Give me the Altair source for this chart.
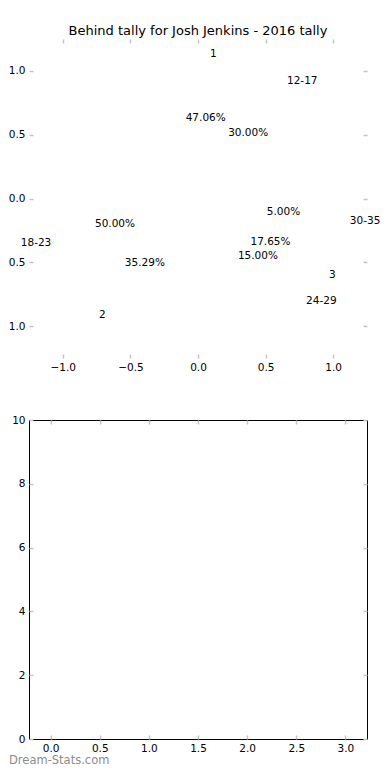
import altair as alt
import pandas as pd

FONT = "DejaVu Sans"

title_text = "Behind tally for Josh Jenkins - 2016 tally"
watermark = "Dream-Stats.com"

# pie titles
pie_names = ["1", "2", "3"]
pie_x = [0.114, -0.707, 0.993]
pie_y = [1.132, -0.912, -0.603]

# category labels
cat_names = ["12-17", "18-23", "30-35", "24-29"]
cat_x = [0.771, -1.198, 1.236, 0.912]
cat_y = [0.924, -0.352, -0.180, -0.807]

# percentage labels
pct_names = ["47.06%", "30.00%", "5.00%", "50.00%", "17.65%", "15.00%", "35.29%"]
pct_x = [0.057, 0.371, 0.632, -0.614, 0.536, 0.443, -0.393]
pct_y = [0.634, 0.517, -0.102, -0.196, -0.337, -0.454, -0.509]

top_x_ticks = [-1.0, -0.5, 0.0, 0.5, 1.0]
top_y_ticks = [-1.0, -0.5, 0.0, 0.5, 1.0]
top_domain = [-1.25, 1.25]

bottom_x_ticks = [0.0, 0.5, 1.0, 1.5, 2.0, 2.5, 3.0]
bottom_y_ticks = [0, 2, 4, 6, 8, 10]
bottom_x_domain = [-0.22, 3.22]
bottom_y_domain = [0, 10]

W = 338
H_TOP = 319
H_BOT = 319
TICK_COLOR = "#c4c4c4"
LABEL_SIZE = 10.5

df_top = pd.DataFrame({
    "label": pie_names + cat_names + pct_names,
    "x": pie_x + cat_x + pct_x,
    "y": pie_y + cat_y + pct_y,
})
df_bot = pd.DataFrame({"x": pd.Series([], dtype=float), "y": pd.Series([], dtype=float)})
df_mark = pd.DataFrame({"t": [watermark]})


def label_axis(orient, values, fmt):
    return alt.Axis(orient=orient, values=values, format=fmt, ticks=False, domain=False,
                    grid=False, labelPadding=4, labelFont=FONT, labelFontSize=LABEL_SIZE,
                    labelColor="#000", labelFlush=False, labelOverlap=False, title=None)


def tick_axis(orient, values, offset):
    return alt.Axis(orient=orient, values=values, offset=offset, labels=False, domain=False,
                    grid=False, ticks=True, tickSize=4, tickColor=TICK_COLOR, tickWidth=1.5,
                    title=None)


def tick_layers(df, xscale, yscale, xticks, yticks, w, h):
    inner_a = alt.Chart(df).mark_point(opacity=0).encode(
        x=alt.X("x:Q", scale=xscale, axis=tick_axis("top", xticks, -h)),
        y=alt.Y("y:Q", scale=yscale, axis=tick_axis("right", yticks, -w)),
    )
    inner_b = alt.Chart(df).mark_point(opacity=0).encode(
        x=alt.X("x:Q", scale=xscale, axis=tick_axis("bottom", xticks, -h)),
        y=alt.Y("y:Q", scale=yscale, axis=tick_axis("left", yticks, -w)),
    )
    return [inner_a, inner_b]


# ---- top panel ----
xs_top = alt.Scale(domain=top_domain, nice=False, zero=False)
ys_top = alt.Scale(domain=top_domain, nice=False, zero=False)

texts = alt.Chart(df_top).mark_text(font=FONT, fontSize=LABEL_SIZE, color="#000",
                                     align="center", baseline="middle").encode(
    x=alt.X("x:Q", scale=xs_top, axis=label_axis("bottom", top_x_ticks, ".1f")),
    y=alt.Y("y:Q", scale=ys_top, axis=label_axis("left", top_y_ticks, ".1f")),
    text="label:N",
)

top = alt.layer(texts, *tick_layers(df_top, xs_top, ys_top, top_x_ticks, top_y_ticks, W, H_TOP)).resolve_axis(
    x="independent", y="independent"
).properties(
    width=W, height=H_TOP,
    view=alt.ViewBackground(stroke="transparent"),
    title=alt.TitleParams(text=title_text, font=FONT, fontSize=13, fontWeight="normal",
                          color="#000", anchor="middle", frame="group", offset=0),
)

# ---- bottom panel ----
xs_bot = alt.Scale(domain=bottom_x_domain, nice=False, zero=False)
ys_bot = alt.Scale(domain=bottom_y_domain, nice=False, zero=False)

base_bot = alt.Chart(df_bot).mark_point(opacity=0).encode(
    x=alt.X("x:Q", scale=xs_bot, axis=label_axis("bottom", bottom_x_ticks, ".1f")),
    y=alt.Y("y:Q", scale=ys_bot, axis=label_axis("left", bottom_y_ticks, "d")),
)

wm = alt.Chart(df_mark).mark_text(font=FONT, fontSize=11.5, color="#8c8c8c",
                                   align="left", baseline="alphabetic").encode(
    text="t:N",
    x=alt.value(-20),
    y=alt.value(H_BOT + 25),
)

bottom = alt.layer(base_bot, *tick_layers(df_bot, xs_bot, ys_bot, bottom_x_ticks, bottom_y_ticks, W, H_BOT), wm).resolve_axis(
    x="independent", y="independent"
).properties(
    width=W, height=H_BOT,
    view=alt.ViewBackground(stroke="#000", strokeWidth=1),
)

chart = alt.vconcat(top, bottom, spacing=41).properties(
    padding={"left": -9, "top": 16, "right": 1, "bottom": 1},
).configure(font=FONT)

chart.save("out.html", embed_options={"renderer": "svg", "actions": False})
